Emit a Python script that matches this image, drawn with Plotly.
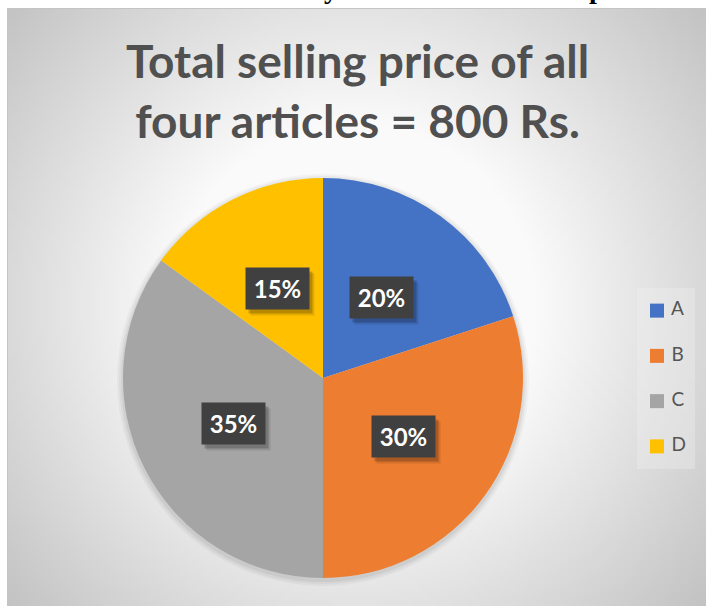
import base64
import math
import struct
import zlib

import numpy as np
import plotly.graph_objects as go

# ---------------- data ----------------
articles = ["A", "B", "C", "D"]
share_pct = [20, 30, 35, 15]
colors = ["#4472C4", "#ED7D31", "#A5A5A5", "#FFC000"]
title_text = "Total selling price of all<br>four articles = 800 Rs."

# ---------------- layout constants (pixels) ----------------
W, H = 706, 606
CX, CY, R = 323, 378, 200          # pie centre / radius
AREA = (7, 8, 706, 606)            # chart area box (x0, y0, x1, y1)
LEG = (637, 288, 695, 469)         # legend box


def px(x):
    return x / W


def py(y):
    return 1 - y / H


# ---------------- radial gradient background as PNG ----------------
def gradient_png(w=175, h=150):
    x0, y0, x1, y1 = AREA
    xs = x0 + (np.arange(w) + 0.5) * (x1 - x0) / w
    ys = y0 + (np.arange(h) + 0.5) * (y1 - y0) / h
    X, Y = np.meshgrid(xs, ys)
    d = np.hypot(X - 355, Y - 305)
    v = np.clip(287 - 0.2 * d, 192, 250).astype(np.uint8)
    raw = b"".join(b"\x00" + v[j].tobytes() for j in range(h))

    def chunk(tag, data):
        c = struct.pack(">I", len(data)) + tag + data
        return c + struct.pack(">I", zlib.crc32(tag + data) & 0xFFFFFFFF)

    png = b"\x89PNG\r\n\x1a\n"
    png += chunk(b"IHDR", struct.pack(">IIBBBBB", w, h, 8, 0, 0, 0, 0))
    png += chunk(b"IDAT", zlib.compress(raw, 9))
    png += chunk(b"IEND", b"")
    return "data:image/png;base64," + base64.b64encode(png).decode()


fig = go.Figure()

# ---------------- pie ----------------
fig.add_trace(go.Pie(
    labels=articles,
    values=share_pct,
    sort=False,
    direction="clockwise",
    rotation=0,
    marker=dict(colors=colors, line=dict(width=0)),
    textinfo="none",
    hoverinfo="label+percent",
    showlegend=False,
    domain=dict(x=[px(CX - R), px(CX + R)], y=[py(CY + R), py(CY - R)]),
))

# ---------------- legend (scatter on hidden axes) ----------------
fig.add_trace(go.Scatter(
    x=[0] * len(articles),
    y=articles,
    mode="markers+text",
    marker=dict(symbol="square", size=14, color=colors, line=dict(width=0)),
    text=articles,
    texttemplate=" %{text}",
    textposition="middle right",
    textfont=dict(family="Lato", size=19, color="#555555"),
    cliponaxis=False,
    showlegend=False,
    hoverinfo="skip",
    xaxis="x", yaxis="y",
))

# ---------------- data labels ----------------
annotations = []
total = sum(share_pct)
cum = 0
for lab, v in zip(articles, share_pct):
    theta = 2 * math.pi * (cum + v / 2) / total
    cum += v
    X = CX + 0.5 * R * math.sin(theta)
    Y = CY - 0.5 * R * math.cos(theta)
    txt = f"{round(100 * v / total)}%"
    common = dict(x=px(X), y=py(Y), xref="paper", yref="paper",
                  showarrow=False, width=63, height=41, borderpad=0,
                  xanchor="center", yanchor="middle")
    annotations.append(dict(text=" ", bgcolor="rgba(0,0,0,0.10)",
                            xshift=5, yshift=-6, **common))
    annotations.append(dict(text=" ", bgcolor="rgba(0,0,0,0.20)",
                            xshift=3, yshift=-4, **common))
    annotations.append(dict(text=txt, bgcolor="#404040",
                            font=dict(family="Lato", size=24, color="white",
                                      weight="bold"), **common))

# title
annotations.append(dict(
    text=title_text, x=px(357), y=py(31), xref="paper", yref="paper",
    xanchor="center", yanchor="top", showarrow=False,
    font=dict(family="Lato", size=46, color="#505050", weight="bold"),
))

# cut-off document text at the very top of the picture
for ch, xx in [("y", 331), ("p", 597)]:
    annotations.append(dict(
        text=ch, x=px(xx), y=py(6), xref="paper", yref="paper",
        xanchor="center", yanchor="bottom", showarrow=False,
        font=dict(family="Liberation Serif", size=28, color="black",
                  weight="bold"),
    ))

# ---------------- shapes ----------------
shapes = []
# pie soft shadow
for dr, a in [(6, 0.03), (4, 0.04), (2, 0.05)]:
    shapes.append(dict(type="circle", xref="paper", yref="paper", layer="below",
                       x0=px(CX - R - dr), x1=px(CX + R + dr),
                       y0=py(CY + R + dr + 2), y1=py(CY - R - dr + 2),
                       line=dict(width=0), fillcolor=f"rgba(0,0,0,{a})"))
# legend box
shapes.append(dict(type="rect", xref="paper", yref="paper", layer="below",
                   x0=px(LEG[0]), x1=px(LEG[2]), y0=py(LEG[3]), y1=py(LEG[1]),
                   line=dict(width=0), fillcolor="rgba(240,240,240,0.35)"))
# chart area border
shapes.append(dict(type="rect", xref="paper", yref="paper", layer="below",
                   x0=px(AREA[0] + 0.5), x1=px(AREA[2] + 2),
                   y0=py(AREA[3] + 2), y1=py(AREA[1] + 0.5),
                   line=dict(width=1, color="#c4c4c4"), fillcolor="rgba(0,0,0,0)"))

fig.update_layout(
    width=W, height=H,
    margin=dict(l=0, r=0, t=0, b=0),
    paper_bgcolor="white",
    plot_bgcolor="rgba(0,0,0,0)",
    showlegend=False,
    images=[dict(source=gradient_png(), xref="paper", yref="paper",
                 x=px(AREA[0]), y=py(AREA[1]),
                 sizex=(AREA[2] - AREA[0]) / W, sizey=(AREA[3] - AREA[1]) / H,
                 xanchor="left", yanchor="top", sizing="stretch",
                 layer="below")],
    shapes=shapes,
    annotations=annotations,
    xaxis=dict(domain=[px(LEG[0]), px(LEG[2])], range=[-20, 38],
               visible=False, fixedrange=True),
    yaxis=dict(domain=[py(LEG[3]), py(LEG[1])], type="category",
               categoryorder="array", categoryarray=articles,
               range=[len(articles) - 0.5, -0.5],
               visible=False, fixedrange=True),
)

fig.write_html("out.html")
